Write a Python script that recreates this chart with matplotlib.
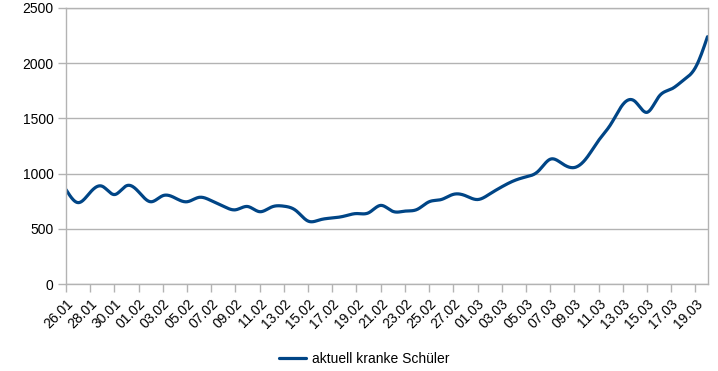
import numpy as np
import pandas as pd
import matplotlib
matplotlib.use("Agg")
import matplotlib.pyplot as plt

plt.rcParams['font.family'] = ['Liberation Sans', 'DejaVu Sans']

# Daily values, 26.01 - 20.03
dates = pd.date_range("2021-01-26", "2021-03-20", freq="D")
kranke = [855, 737, 830, 885, 810, 890, 835, 745, 800, 780,
          745, 785, 755, 705, 672, 702, 655, 698, 705, 665,
          570, 582, 598, 615, 638, 645, 712, 658, 660, 675,
          745, 765, 812, 800, 765, 815, 880, 935, 970, 1020,
          1130, 1090, 1055, 1140, 1300, 1445, 1625, 1655, 1555, 1700,
          1765, 1845, 1960, 2240]
labels = [d.strftime("%d.%m") for d in dates]
series_name = "aktuell kranke Schüler"


def natural_spline(x, y, n=20):
    # natural cubic spline, only used to draw the smoothed line
    x = np.asarray(x, float)
    y = np.asarray(y, float)
    k = len(x)
    h = np.diff(x)
    A = np.zeros((k, k))
    b = np.zeros(k)
    A[0, 0] = A[-1, -1] = 1
    for i in range(1, k - 1):
        A[i, i - 1] = h[i - 1]
        A[i, i] = 2 * (h[i - 1] + h[i])
        A[i, i + 1] = h[i]
        b[i] = 6 * ((y[i + 1] - y[i]) / h[i] - (y[i] - y[i - 1]) / h[i - 1])
    M = np.linalg.solve(A, b)
    xs, ys = [], []
    for i in range(k - 1):
        t = np.linspace(x[i], x[i + 1], n, endpoint=False)
        a = x[i + 1] - t
        c = t - x[i]
        s = (M[i] * a**3 + M[i + 1] * c**3) / (6 * h[i]) \
            + (y[i] / h[i] - M[i] * h[i] / 6) * a \
            + (y[i + 1] / h[i] - M[i + 1] * h[i] / 6) * c
        xs.extend(t)
        ys.extend(s)
    xs.append(x[-1])
    ys.append(y[-1])
    return np.array(xs), np.array(ys)


x = np.arange(len(kranke))
xs, ys = natural_spline(x, kranke)

fig = plt.figure(figsize=(7.18, 3.71), dpi=100)
ax = fig.add_axes([66 / 718, 1 - 284 / 371, (707.5 - 66) / 718, (284 - 8) / 371])

ax.plot(xs, ys, color="#004586", linewidth=2.3, label=series_name,
        solid_capstyle="round")

ax.set_xlim(0, len(kranke) - 1)
ax.set_ylim(0, 2500)
ax.set_yticks(np.arange(0, 2501, 500))
ax.set_xticks(x[::2])
ax.set_xticklabels(labels[::2], rotation=45, ha="right", rotation_mode="anchor")

ax.grid(axis="y", color="#b3b3b3", linewidth=1)
ax.set_axisbelow(True)
for sp in ax.spines.values():
    sp.set_color("#b3b3b3")
    sp.set_linewidth(1)
ax.tick_params(axis="both", colors="#b3b3b3", labelcolor="black",
               labelsize=10, length=6, width=1)
ax.tick_params(axis="y", pad=3)
ax.tick_params(axis="x", pad=3)

fig.legend(loc="center", bbox_to_anchor=(0.5 + 5 / 718, 1 - 359 / 371), frameon=False,
           fontsize=10, handlelength=2.0, handletextpad=0.4)

fig.savefig("out.png", dpi=100)
